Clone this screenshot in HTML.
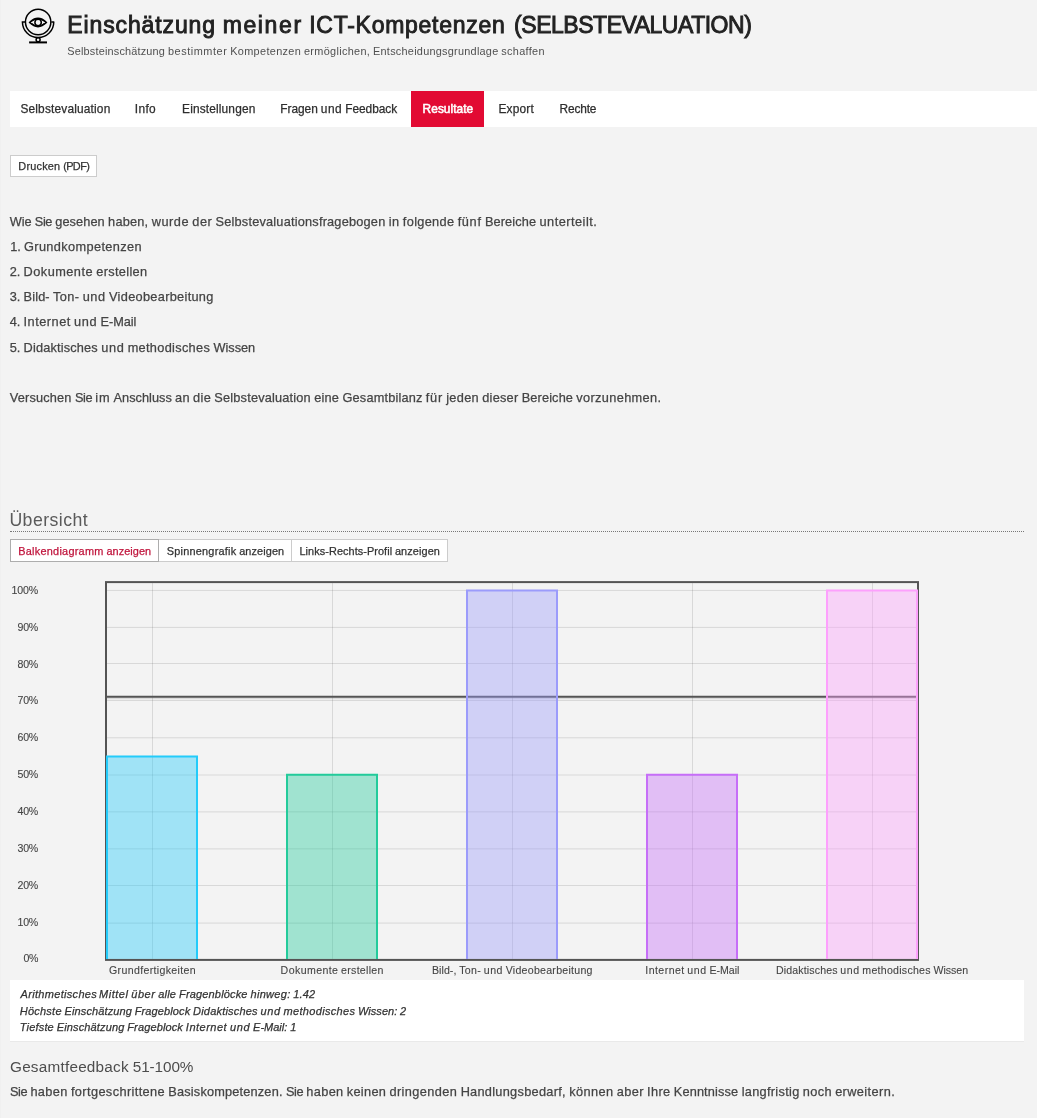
<!DOCTYPE html>
<html lang="de"><head><meta charset="utf-8"><title>Einschätzung meiner ICT-Kompetenzen</title>
<style>
html,body{margin:0;padding:0;}
body{width:1037px;height:1118px;overflow:hidden;position:relative;background:#f3f3f3;font-family:"Liberation Sans", sans-serif;}
.t{position:absolute;white-space:pre;line-height:0;}
.box{position:absolute;box-sizing:border-box;}
.l{margin:0;padding:0;font-size:0;line-height:0;font-weight:normal;}
</style></head><body>
<div id="page" style="position:absolute;left:0;top:0;width:1037px;height:1118px;will-change:transform">
<!-- header icon -->
<svg style="position:absolute;left:18px;top:4px" width="42" height="44" viewBox="18 4 42 44" fill="none" stroke="#000">
<circle cx="38.15" cy="21.95" r="12.7" stroke-width="1.5"/>
<path d="M21.7 21.9H25M51.3 21.9H54.3M22.45 21.9A15.65 15.65 0 0 0 53.75 21.9" stroke-width="1.5"/>
<path d="M29.6 22.5Q38 14.4 46.4 22.5Q38 30.5 29.6 22.5Z" stroke-width="1.7" stroke-linejoin="round"/>
<path d="M31 21.5Q38 15.6 45 21.5M31.5 23.6Q38 29.2 44.5 23.6" stroke-width="1.3"/>
<circle cx="38.1" cy="22.5" r="3.2" stroke-width="1.5"/>
<circle cx="38.1" cy="39.7" r="2" stroke-width="1.5"/>
<path d="M29.1 42.4H47" stroke-width="2"/>
</svg>
<div class="box" style="left:0;top:0;width:1px;height:1118px;background:#f0f0f0"></div>
<!-- tabs -->
<div class="box" style="left:10px;top:91px;width:1027px;height:36px;background:#fff"></div>
<div class="box" style="left:411px;top:91px;width:73px;height:36px;background:#e20a33"></div>
<!-- print button -->
<div class="box" style="left:10px;top:155px;width:87px;height:22px;background:#fff;border:1px solid #ccc"></div>
<!-- heading rule -->
<div class="box" style="left:10px;top:531px;width:1014px;height:0;border-top:1px dotted #777"></div>
<!-- button group -->
<div class="box" style="left:10px;top:539px;width:438px;height:23px;background:#fff;border:1px solid #ccc"></div>
<div class="box" style="left:291px;top:539px;width:1px;height:23px;background:#ccc"></div>
<div class="box" style="left:10px;top:539px;width:149px;height:23px;background:#fff;border:1px solid #adadad"></div>
<!-- stats box -->
<div class="box" style="left:10px;top:980px;width:1014px;height:61px;background:#fff"></div>
<div class="box" style="left:10px;top:1041px;width:1014px;height:1px;background:#e9e9e9"></div>
<svg class="chart" width="1037" height="420" viewBox="0 570 1037 420" style="position:absolute;left:0;top:570px">
<path d="M152.5 583.1V958.9M332.5 583.1V958.9M512.5 583.1V958.9M692.5 583.1V958.9M872.5 583.1V958.9M107.0 923.1H917.0M107.0 885.5H917.0M107.0 848.9H917.0M107.0 811.9H917.0M107.0 775.0H917.0M107.0 737.8H917.0M107.0 700.5H917.0M107.0 663.5H917.0M107.0 627.4H917.0M107.0 590.45H917.0" stroke="rgba(84,84,84,0.17)" stroke-width="1" fill="none"/>
<rect x="106.0" y="582.1" width="812.0" height="377.79999999999995" fill="none" stroke="#545454" stroke-width="2"/>
<path d="M107.0 698.3H917.0" stroke="rgba(0,0,0,0.1)" stroke-width="2" fill="none"/>
<path d="M107.0 696.8H917.0" stroke="#545454" stroke-width="2" fill="none"/>
<rect x="107" y="756.40" width="90" height="202.50" fill="#23cbfa" fill-opacity="0.4"/>
<path d="M107 958.9V756.40H197V958.9" fill="none" stroke="#23cbfa" stroke-width="2"/>
<rect x="287" y="774.70" width="90" height="184.20" fill="#23cb9b" fill-opacity="0.4"/>
<path d="M287 958.9V774.70H377V958.9" fill="none" stroke="#23cb9b" stroke-width="2"/>
<rect x="467" y="590.40" width="90" height="368.50" fill="#9b9bfb" fill-opacity="0.4"/>
<path d="M467 958.9V590.40H557V958.9" fill="none" stroke="#9b9bfb" stroke-width="2"/>
<rect x="647" y="774.70" width="90" height="184.20" fill="#c66ef8" fill-opacity="0.4"/>
<path d="M647 958.9V774.70H737V958.9" fill="none" stroke="#c66ef8" stroke-width="2"/>
<rect x="827" y="590.40" width="90" height="368.50" fill="#fda0fd" fill-opacity="0.4"/>
<path d="M827 958.9V590.40H917V958.9" fill="none" stroke="#fda0fd" stroke-width="2"/>
</svg>
<div class="l"><span class="t" style="left:67.30px;top:25.00px;font-size:23.0px;letter-spacing:0.875px;color:#222;-webkit-text-stroke:0.9px #222;">Einschätzung</span></div>
<div class="l"><span class="t" style="left:222.70px;top:25.00px;font-size:23.0px;letter-spacing:1.613px;color:#222;-webkit-text-stroke:0.9px #222;">meiner</span></div>
<div class="l"><span class="t" style="left:309.20px;top:25.00px;font-size:23.0px;letter-spacing:0.733px;color:#222;-webkit-text-stroke:0.9px #222;">ICT-Kompetenzen</span></div>
<div class="l"><span class="t" style="left:514.10px;top:25.00px;font-size:23.0px;letter-spacing:-0.475px;color:#222;-webkit-text-stroke:0.9px #222;">(SELBSTEVALUATION)</span></div>
<div class="l"><span class="t" style="left:67.30px;top:51.00px;font-size:10.9px;letter-spacing:0.186px;color:#505050;">Selbsteinschätzung</span> <span class="t" style="left:167.93px;top:51.00px;font-size:10.9px;letter-spacing:0.556px;color:#505050;">bestimmter</span> <span class="t" style="left:230.19px;top:51.00px;font-size:10.9px;letter-spacing:0.338px;color:#505050;">Kompetenzen</span> <span class="t" style="left:303.95px;top:51.00px;font-size:10.9px;letter-spacing:0.327px;color:#505050;">ermöglichen,</span> <span class="t" style="left:373.06px;top:51.00px;font-size:10.9px;letter-spacing:0.252px;color:#505050;">Entscheidungsgrundlage</span> <span class="t" style="left:501.34px;top:51.00px;font-size:10.9px;letter-spacing:0.307px;color:#505050;">schaffen</span></div>
<div class="l"><span class="t" style="left:20.40px;top:109.00px;font-size:11.9px;letter-spacing:0.173px;color:#2e2e2e;-webkit-text-stroke:0.25px #2e2e2e;">Selbstevaluation</span></div>
<div class="l"><span class="t" style="left:134.80px;top:109.00px;font-size:11.9px;letter-spacing:0.344px;color:#2e2e2e;-webkit-text-stroke:0.25px #2e2e2e;">Info</span></div>
<div class="l"><span class="t" style="left:182.10px;top:109.00px;font-size:11.9px;letter-spacing:0.148px;color:#2e2e2e;-webkit-text-stroke:0.25px #2e2e2e;">Einstellungen</span></div>
<div class="l"><span class="t" style="left:280.30px;top:109.00px;font-size:11.9px;letter-spacing:-0.038px;color:#2e2e2e;-webkit-text-stroke:0.25px #2e2e2e;">Fragen</span> <span class="t" style="left:320.78px;top:109.00px;font-size:11.9px;letter-spacing:0.559px;color:#2e2e2e;-webkit-text-stroke:0.25px #2e2e2e;">und</span> <span class="t" style="left:345.34px;top:109.00px;font-size:11.9px;letter-spacing:-0.067px;color:#2e2e2e;-webkit-text-stroke:0.25px #2e2e2e;">Feedback</span></div>
<div class="l"><span class="t" style="left:422.60px;top:109.00px;font-size:11.9px;letter-spacing:0.042px;color:#fff;-webkit-text-stroke:0.55px #fff;">Resultate</span></div>
<div class="l"><span class="t" style="left:498.50px;top:109.00px;font-size:11.9px;letter-spacing:0.174px;color:#2e2e2e;-webkit-text-stroke:0.25px #2e2e2e;">Export</span></div>
<div class="l"><span class="t" style="left:559.60px;top:109.00px;font-size:11.9px;letter-spacing:-0.161px;color:#2e2e2e;-webkit-text-stroke:0.25px #2e2e2e;">Rechte</span></div>
<div class="l"><span class="t" style="left:18.30px;top:166.00px;font-size:10.9px;letter-spacing:0.214px;color:#333;-webkit-text-stroke:0.25px #333;">Drucken</span> <span class="t" style="left:63.13px;top:166.00px;font-size:10.9px;letter-spacing:-0.583px;color:#333;-webkit-text-stroke:0.25px #333;">(PDF)</span></div>
<div class="l"><span class="t" style="left:9.70px;top:222.00px;font-size:12.75px;letter-spacing:-0.021px;color:#444;-webkit-text-stroke:0.25px #444;">Wie</span> <span class="t" style="left:34.86px;top:222.00px;font-size:12.75px;letter-spacing:-0.426px;color:#444;-webkit-text-stroke:0.25px #444;">Sie</span> <span class="t" style="left:55.28px;top:222.00px;font-size:12.75px;letter-spacing:0.087px;color:#444;-webkit-text-stroke:0.25px #444;">gesehen</span> <span class="t" style="left:108.08px;top:222.00px;font-size:12.75px;letter-spacing:0.218px;color:#444;-webkit-text-stroke:0.25px #444;">haben,</span> <span class="t" style="left:151.66px;top:222.00px;font-size:12.75px;letter-spacing:0.539px;color:#444;-webkit-text-stroke:0.25px #444;">wurde</span> <span class="t" style="left:192.35px;top:222.00px;font-size:12.75px;letter-spacing:0.494px;color:#444;-webkit-text-stroke:0.25px #444;">der</span> <span class="t" style="left:215.53px;top:222.00px;font-size:12.75px;letter-spacing:0.202px;color:#444;-webkit-text-stroke:0.25px #444;">Selbstevaluationsfragebogen</span> <span class="t" style="left:388.69px;top:222.00px;font-size:12.75px;letter-spacing:0.492px;color:#444;-webkit-text-stroke:0.25px #444;">in</span> <span class="t" style="left:402.87px;top:222.00px;font-size:12.75px;letter-spacing:0.323px;color:#444;-webkit-text-stroke:0.25px #444;">folgende</span> <span class="t" style="left:457.64px;top:222.00px;font-size:12.75px;letter-spacing:0.678px;color:#444;-webkit-text-stroke:0.25px #444;">fünf</span> <span class="t" style="left:484.89px;top:222.00px;font-size:12.75px;letter-spacing:0.131px;color:#444;-webkit-text-stroke:0.25px #444;">Bereiche</span> <span class="t" style="left:539.53px;top:222.00px;font-size:12.75px;letter-spacing:0.482px;color:#444;-webkit-text-stroke:0.25px #444;">unterteilt.</span></div>
<div class="l"><span class="t" style="left:10.20px;top:247.00px;font-size:12.75px;letter-spacing:-0.051px;color:#444;-webkit-text-stroke:0.25px #444;">1.</span> <span class="t" style="left:24.00px;top:247.00px;font-size:12.75px;letter-spacing:0.369px;color:#444;-webkit-text-stroke:0.25px #444;">Grundkompetenzen</span></div>
<div class="l"><span class="t" style="left:9.70px;top:272.00px;font-size:12.75px;letter-spacing:-0.019px;color:#444;-webkit-text-stroke:0.25px #444;">2.</span> <span class="t" style="left:23.58px;top:272.00px;font-size:12.75px;letter-spacing:0.469px;color:#444;-webkit-text-stroke:0.25px #444;">Dokumente</span> <span class="t" style="left:96.29px;top:272.00px;font-size:12.75px;letter-spacing:0.323px;color:#444;-webkit-text-stroke:0.25px #444;">erstellen</span></div>
<div class="l"><span class="t" style="left:9.70px;top:297.00px;font-size:12.75px;letter-spacing:-0.047px;color:#444;-webkit-text-stroke:0.25px #444;">3.</span> <span class="t" style="left:23.51px;top:297.00px;font-size:12.75px;letter-spacing:0.152px;color:#444;-webkit-text-stroke:0.25px #444;">Bild-</span> <span class="t" style="left:53.04px;top:297.00px;font-size:12.75px;letter-spacing:0.380px;color:#444;-webkit-text-stroke:0.25px #444;">Ton-</span> <span class="t" style="left:82.63px;top:297.00px;font-size:12.75px;letter-spacing:0.625px;color:#444;-webkit-text-stroke:0.25px #444;">und</span> <span class="t" style="left:109.04px;top:297.00px;font-size:12.75px;letter-spacing:0.307px;color:#444;-webkit-text-stroke:0.25px #444;">Videobearbeitung</span></div>
<div class="l"><span class="t" style="left:9.70px;top:322.00px;font-size:12.75px;letter-spacing:-0.032px;color:#444;-webkit-text-stroke:0.25px #444;">4.</span> <span class="t" style="left:23.55px;top:322.00px;font-size:12.75px;letter-spacing:0.497px;color:#444;-webkit-text-stroke:0.25px #444;">Internet</span> <span class="t" style="left:74.03px;top:322.00px;font-size:12.75px;letter-spacing:0.647px;color:#444;-webkit-text-stroke:0.25px #444;">und</span> <span class="t" style="left:100.52px;top:322.00px;font-size:12.75px;letter-spacing:-0.045px;color:#444;-webkit-text-stroke:0.25px #444;">E-Mail</span></div>
<div class="l"><span class="t" style="left:9.70px;top:348.00px;font-size:12.75px;letter-spacing:-0.027px;color:#444;-webkit-text-stroke:0.25px #444;">5.</span> <span class="t" style="left:23.56px;top:348.00px;font-size:12.75px;letter-spacing:0.170px;color:#444;-webkit-text-stroke:0.25px #444;">Didaktisches</span> <span class="t" style="left:101.16px;top:348.00px;font-size:12.75px;letter-spacing:0.654px;color:#444;-webkit-text-stroke:0.25px #444;">und</span> <span class="t" style="left:127.67px;top:348.00px;font-size:12.75px;letter-spacing:0.317px;color:#444;-webkit-text-stroke:0.25px #444;">methodisches</span> <span class="t" style="left:213.43px;top:348.00px;font-size:12.75px;letter-spacing:-0.007px;color:#444;-webkit-text-stroke:0.25px #444;">Wissen</span></div>
<div class="l"><span class="t" style="left:9.70px;top:398.00px;font-size:12.75px;letter-spacing:0.187px;color:#444;-webkit-text-stroke:0.25px #444;">Versuchen</span> <span class="t" style="left:74.90px;top:398.00px;font-size:12.75px;letter-spacing:-0.424px;color:#444;-webkit-text-stroke:0.25px #444;">Sie</span> <span class="t" style="left:95.33px;top:398.00px;font-size:12.75px;letter-spacing:0.720px;color:#444;-webkit-text-stroke:0.25px #444;">im</span> <span class="t" style="left:113.49px;top:398.00px;font-size:12.75px;letter-spacing:0.025px;color:#444;-webkit-text-stroke:0.25px #444;">Anschluss</span> <span class="t" style="left:175.10px;top:398.00px;font-size:12.75px;letter-spacing:0.273px;color:#444;-webkit-text-stroke:0.25px #444;">an</span> <span class="t" style="left:193.10px;top:398.00px;font-size:12.75px;letter-spacing:0.315px;color:#444;-webkit-text-stroke:0.25px #444;">die</span> <span class="t" style="left:214.33px;top:398.00px;font-size:12.75px;letter-spacing:0.188px;color:#444;-webkit-text-stroke:0.25px #444;">Selbstevaluation</span> <span class="t" style="left:314.17px;top:398.00px;font-size:12.75px;letter-spacing:0.232px;color:#444;-webkit-text-stroke:0.25px #444;">eine</span> <span class="t" style="left:342.47px;top:398.00px;font-size:12.75px;letter-spacing:0.178px;color:#444;-webkit-text-stroke:0.25px #444;">Gesamtbilanz</span> <span class="t" style="left:425.83px;top:398.00px;font-size:12.75px;letter-spacing:0.751px;color:#444;-webkit-text-stroke:0.25px #444;">für</span> <span class="t" style="left:446.23px;top:398.00px;font-size:12.75px;letter-spacing:0.311px;color:#444;-webkit-text-stroke:0.25px #444;">jeden</span> <span class="t" style="left:482.25px;top:398.00px;font-size:12.75px;letter-spacing:0.240px;color:#444;-webkit-text-stroke:0.25px #444;">dieser</span> <span class="t" style="left:521.69px;top:398.00px;font-size:12.75px;letter-spacing:0.133px;color:#444;-webkit-text-stroke:0.25px #444;">Bereiche</span> <span class="t" style="left:576.34px;top:398.00px;font-size:12.75px;letter-spacing:0.354px;color:#444;-webkit-text-stroke:0.25px #444;">vorzunehmen.</span></div>
<div class="l"><span class="t" style="left:9.40px;top:520.00px;font-size:17.7px;letter-spacing:0.458px;color:#5a5a5a;">Übersicht</span></div>
<div class="l"><span class="t" style="left:18.20px;top:551.00px;font-size:10.9px;letter-spacing:0.264px;color:#c0143c;-webkit-text-stroke:0.25px #c0143c;">Balkendiagramm</span> <span class="t" style="left:106.41px;top:551.00px;font-size:10.9px;letter-spacing:0.080px;color:#c0143c;-webkit-text-stroke:0.25px #c0143c;">anzeigen</span></div>
<div class="l"><span class="t" style="left:166.80px;top:551.00px;font-size:10.9px;letter-spacing:0.230px;color:#333;-webkit-text-stroke:0.25px #333;">Spinnengrafik</span> <span class="t" style="left:239.19px;top:551.00px;font-size:10.9px;letter-spacing:0.107px;color:#333;-webkit-text-stroke:0.25px #333;">anzeigen</span></div>
<div class="l"><span class="t" style="left:299.50px;top:551.00px;font-size:10.9px;letter-spacing:0.066px;color:#333;-webkit-text-stroke:0.25px #333;">Links-Rechts-Profil</span> <span class="t" style="left:394.94px;top:551.00px;font-size:10.9px;letter-spacing:0.102px;color:#333;-webkit-text-stroke:0.25px #333;">anzeigen</span></div>
<div class="l"><span class="t" style="left:11.60px;top:590.00px;font-size:10.6px;letter-spacing:-0.166px;color:#444;-webkit-text-stroke:0.1px #444;">100%</span></div>
<div class="l"><span class="t" style="left:17.50px;top:627.00px;font-size:10.6px;letter-spacing:-0.224px;color:#444;-webkit-text-stroke:0.1px #444;">90%</span></div>
<div class="l"><span class="t" style="left:17.50px;top:664.00px;font-size:10.6px;letter-spacing:-0.224px;color:#444;-webkit-text-stroke:0.1px #444;">80%</span></div>
<div class="l"><span class="t" style="left:17.50px;top:700.00px;font-size:10.6px;letter-spacing:-0.224px;color:#444;-webkit-text-stroke:0.1px #444;">70%</span></div>
<div class="l"><span class="t" style="left:17.50px;top:737.00px;font-size:10.6px;letter-spacing:-0.224px;color:#444;-webkit-text-stroke:0.1px #444;">60%</span></div>
<div class="l"><span class="t" style="left:17.50px;top:774.00px;font-size:10.6px;letter-spacing:-0.224px;color:#444;-webkit-text-stroke:0.1px #444;">50%</span></div>
<div class="l"><span class="t" style="left:17.50px;top:811.00px;font-size:10.6px;letter-spacing:-0.224px;color:#444;-webkit-text-stroke:0.1px #444;">40%</span></div>
<div class="l"><span class="t" style="left:17.50px;top:848.00px;font-size:10.6px;letter-spacing:-0.224px;color:#444;-webkit-text-stroke:0.1px #444;">30%</span></div>
<div class="l"><span class="t" style="left:17.50px;top:885.00px;font-size:10.6px;letter-spacing:-0.224px;color:#444;-webkit-text-stroke:0.1px #444;">20%</span></div>
<div class="l"><span class="t" style="left:17.50px;top:922.00px;font-size:10.6px;letter-spacing:-0.224px;color:#444;-webkit-text-stroke:0.1px #444;">10%</span></div>
<div class="l"><span class="t" style="left:23.40px;top:958.00px;font-size:10.6px;letter-spacing:-0.338px;color:#444;-webkit-text-stroke:0.1px #444;">0%</span></div>
<div class="l"><span class="t" style="left:109.00px;top:970.00px;font-size:10.6px;letter-spacing:0.339px;color:#444;-webkit-text-stroke:0.1px #444;">Grundfertigkeiten</span></div>
<div class="l"><span class="t" style="left:280.60px;top:970.00px;font-size:10.6px;letter-spacing:0.401px;color:#444;-webkit-text-stroke:0.1px #444;">Dokumente</span> <span class="t" style="left:341.11px;top:970.00px;font-size:10.6px;letter-spacing:0.276px;color:#444;-webkit-text-stroke:0.1px #444;">erstellen</span></div>
<div class="l"><span class="t" style="left:432.00px;top:970.00px;font-size:10.6px;letter-spacing:0.046px;color:#444;-webkit-text-stroke:0.1px #444;">Bild-,</span> <span class="t" style="left:459.13px;top:970.00px;font-size:10.6px;letter-spacing:0.321px;color:#444;-webkit-text-stroke:0.1px #444;">Ton-</span> <span class="t" style="left:483.74px;top:970.00px;font-size:10.6px;letter-spacing:0.525px;color:#444;-webkit-text-stroke:0.1px #444;">und</span> <span class="t" style="left:505.71px;top:970.00px;font-size:10.6px;letter-spacing:0.260px;color:#444;-webkit-text-stroke:0.1px #444;">Videobearbeitung</span></div>
<div class="l"><span class="t" style="left:645.30px;top:970.00px;font-size:10.6px;letter-spacing:0.427px;color:#444;-webkit-text-stroke:0.1px #444;">Internet</span> <span class="t" style="left:687.37px;top:970.00px;font-size:10.6px;letter-spacing:0.557px;color:#444;-webkit-text-stroke:0.1px #444;">und</span> <span class="t" style="left:709.45px;top:970.00px;font-size:10.6px;letter-spacing:-0.022px;color:#444;-webkit-text-stroke:0.1px #444;">E-Mail</span></div>
<div class="l"><span class="t" style="left:776.00px;top:970.00px;font-size:10.6px;letter-spacing:0.133px;color:#444;-webkit-text-stroke:0.1px #444;">Didaktisches</span> <span class="t" style="left:840.37px;top:970.00px;font-size:10.6px;letter-spacing:0.532px;color:#444;-webkit-text-stroke:0.1px #444;">und</span> <span class="t" style="left:862.36px;top:970.00px;font-size:10.6px;letter-spacing:0.254px;color:#444;-webkit-text-stroke:0.1px #444;">methodisches</span> <span class="t" style="left:933.49px;top:970.00px;font-size:10.6px;letter-spacing:-0.015px;color:#444;-webkit-text-stroke:0.1px #444;">Wissen</span></div>
<div class="l"><span class="t" style="left:20.50px;top:994.00px;font-size:11.0px;letter-spacing:0.321px;color:#333;font-style:italic;-webkit-text-stroke:0.25px #333;">Arithmetisches</span> <span class="t" style="left:98.99px;top:994.00px;font-size:11.0px;letter-spacing:0.528px;color:#333;font-style:italic;-webkit-text-stroke:0.25px #333;">Mittel</span> <span class="t" style="left:131.30px;top:994.00px;font-size:11.0px;letter-spacing:0.537px;color:#333;font-style:italic;-webkit-text-stroke:0.25px #333;">über</span> <span class="t" style="left:158.32px;top:994.00px;font-size:11.0px;letter-spacing:0.185px;color:#333;font-style:italic;-webkit-text-stroke:0.25px #333;">alle</span> <span class="t" style="left:179.04px;top:994.00px;font-size:11.0px;letter-spacing:0.164px;color:#333;font-style:italic;-webkit-text-stroke:0.25px #333;">Fragenblöcke</span> <span class="t" style="left:250.52px;top:994.00px;font-size:11.0px;letter-spacing:0.296px;color:#333;font-style:italic;-webkit-text-stroke:0.25px #333;">hinweg:</span> <span class="t" style="left:293.36px;top:994.00px;font-size:11.0px;letter-spacing:0.099px;color:#333;font-style:italic;-webkit-text-stroke:0.25px #333;">1.42</span></div>
<div class="l"><span class="t" style="left:19.80px;top:1011.00px;font-size:11.0px;letter-spacing:0.224px;color:#333;font-style:italic;-webkit-text-stroke:0.25px #333;">Höchste</span> <span class="t" style="left:64.57px;top:1011.00px;font-size:11.0px;letter-spacing:0.110px;color:#333;font-style:italic;-webkit-text-stroke:0.25px #333;">Einschätzung</span> <span class="t" style="left:134.78px;top:1011.00px;font-size:11.0px;letter-spacing:0.108px;color:#333;font-style:italic;-webkit-text-stroke:0.25px #333;">Frageblock</span> <span class="t" style="left:193.12px;top:1011.00px;font-size:11.0px;letter-spacing:0.183px;color:#333;font-style:italic;-webkit-text-stroke:0.25px #333;">Didaktisches</span> <span class="t" style="left:260.53px;top:1011.00px;font-size:11.0px;letter-spacing:0.610px;color:#333;font-style:italic;-webkit-text-stroke:0.25px #333;">und</span> <span class="t" style="left:283.56px;top:1011.00px;font-size:11.0px;letter-spacing:0.315px;color:#333;font-style:italic;-webkit-text-stroke:0.25px #333;">methodisches</span> <span class="t" style="left:358.06px;top:1011.00px;font-size:11.0px;letter-spacing:0.025px;color:#333;font-style:italic;-webkit-text-stroke:0.25px #333;">Wissen:</span> <span class="t" style="left:400.10px;top:1011.00px;font-size:11.0px;letter-spacing:0.153px;color:#333;font-style:italic;-webkit-text-stroke:0.25px #333;">2</span></div>
<div class="l"><span class="t" style="left:19.80px;top:1027.00px;font-size:11.0px;letter-spacing:0.171px;color:#333;font-style:italic;-webkit-text-stroke:0.25px #333;">Tiefste</span> <span class="t" style="left:56.77px;top:1027.00px;font-size:11.0px;letter-spacing:0.133px;color:#333;font-style:italic;-webkit-text-stroke:0.25px #333;">Einschätzung</span> <span class="t" style="left:127.28px;top:1027.00px;font-size:11.0px;letter-spacing:0.131px;color:#333;font-style:italic;-webkit-text-stroke:0.25px #333;">Frageblock</span> <span class="t" style="left:185.86px;top:1027.00px;font-size:11.0px;letter-spacing:0.490px;color:#333;font-style:italic;-webkit-text-stroke:0.25px #333;">Internet</span> <span class="t" style="left:229.94px;top:1027.00px;font-size:11.0px;letter-spacing:0.638px;color:#333;font-style:italic;-webkit-text-stroke:0.25px #333;">und</span> <span class="t" style="left:253.07px;top:1027.00px;font-size:11.0px;letter-spacing:0.002px;color:#333;font-style:italic;-webkit-text-stroke:0.25px #333;">E-Mail:</span> <span class="t" style="left:290.17px;top:1027.00px;font-size:11.0px;letter-spacing:0.179px;color:#333;font-style:italic;-webkit-text-stroke:0.25px #333;">1</span></div>
<div class="l"><span class="t" style="left:10.00px;top:1067.00px;font-size:15.3px;letter-spacing:0.227px;color:#4d4d4d;">Gesamtfeedback</span> <span class="t" style="left:132.75px;top:1067.00px;font-size:15.3px;letter-spacing:-0.089px;color:#4d4d4d;">51-100%</span></div>
<div class="l"><span class="t" style="left:10.00px;top:1092.00px;font-size:12.75px;letter-spacing:-0.426px;color:#444;-webkit-text-stroke:0.25px #444;">Sie</span> <span class="t" style="left:30.42px;top:1092.00px;font-size:12.75px;letter-spacing:0.353px;color:#444;-webkit-text-stroke:0.25px #444;">haben</span> <span class="t" style="left:70.91px;top:1092.00px;font-size:12.75px;letter-spacing:0.393px;color:#444;-webkit-text-stroke:0.25px #444;">fortgeschrittene</span> <span class="t" style="left:168.35px;top:1092.00px;font-size:12.75px;letter-spacing:0.177px;color:#444;-webkit-text-stroke:0.25px #444;">Basiskompetenzen.</span> <span class="t" style="left:285.90px;top:1092.00px;font-size:12.75px;letter-spacing:-0.426px;color:#444;-webkit-text-stroke:0.25px #444;">Sie</span> <span class="t" style="left:306.32px;top:1092.00px;font-size:12.75px;letter-spacing:0.353px;color:#444;-webkit-text-stroke:0.25px #444;">haben</span> <span class="t" style="left:346.81px;top:1092.00px;font-size:12.75px;letter-spacing:0.298px;color:#444;-webkit-text-stroke:0.25px #444;">keinen</span> <span class="t" style="left:389.44px;top:1092.00px;font-size:12.75px;letter-spacing:0.413px;color:#444;-webkit-text-stroke:0.25px #444;">dringenden</span> <span class="t" style="left:460.64px;top:1092.00px;font-size:12.75px;letter-spacing:0.285px;color:#444;-webkit-text-stroke:0.25px #444;">Handlungsbedarf,</span> <span class="t" style="left:569.13px;top:1092.00px;font-size:12.75px;letter-spacing:0.435px;color:#444;-webkit-text-stroke:0.25px #444;">können</span> <span class="t" style="left:616.84px;top:1092.00px;font-size:12.75px;letter-spacing:0.348px;color:#444;-webkit-text-stroke:0.25px #444;">aber</span> <span class="t" style="left:647.02px;top:1092.00px;font-size:12.75px;letter-spacing:0.365px;color:#444;-webkit-text-stroke:0.25px #444;">Ihre</span> <span class="t" style="left:673.72px;top:1092.00px;font-size:12.75px;letter-spacing:0.157px;color:#444;-webkit-text-stroke:0.25px #444;">Kenntnisse</span> <span class="t" style="left:741.64px;top:1092.00px;font-size:12.75px;letter-spacing:0.304px;color:#444;-webkit-text-stroke:0.25px #444;">langfristig</span> <span class="t" style="left:802.82px;top:1092.00px;font-size:12.75px;letter-spacing:0.348px;color:#444;-webkit-text-stroke:0.25px #444;">noch</span> <span class="t" style="left:835.14px;top:1092.00px;font-size:12.75px;letter-spacing:0.396px;color:#444;-webkit-text-stroke:0.25px #444;">erweitern.</span></div>
</div>
</body></html>
